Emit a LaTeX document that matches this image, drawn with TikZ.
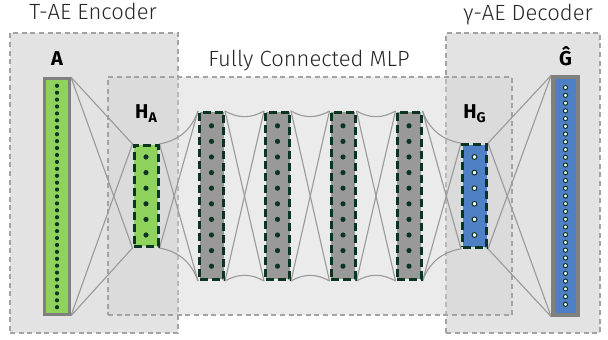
\documentclass[tikz,border=0pt]{standalone}
\usepackage{fontspec}
\setmainfont{Fira Sans Light}[BoldFont={Fira Sans Bold}]
\usetikzlibrary{positioning,fit,backgrounds}

\definecolor{ingreen}{HTML}{8FD35C}
\definecolor{outblue}{HTML}{4F80C6}
\definecolor{hidgray}{HTML}{999999}
\definecolor{edgedark}{HTML}{0A3520}
\definecolor{framegray}{HTML}{A3A3A3}
\definecolor{bargray}{HTML}{808080}
\definecolor{wiregray}{HTML}{999999}
\definecolor{blockfill}{HTML}{E3E3E3}
\definecolor{mlpfill}{HTML}{D2D2D2}

\begin{document}
\begin{tikzpicture}[
  x=0.5pt, y=-0.5pt,
  font=\fontsize{11}{13}\selectfont,
  region/.style={draw=framegray, line width=1.25pt, dash pattern=on 2.5pt off 1.8pt,
                 inner sep=0pt},
  bar/.style={draw=bargray, line width=1.35pt, inner sep=0pt,
              minimum width=12.6pt},
  layer/.style={draw=edgedark, line width=1.5pt, dash pattern=on 4pt off 2pt,
                inner sep=0pt, minimum width=12pt},
  wire/.style={draw=wiregray, line width=0.55pt},
  ttl/.style={anchor=base, text=black!85},
  lbl/.style={anchor=base, font=\fontsize{10}{12}\selectfont\bfseries},
  dkdot/.style={fill=edgedark},
  wtdot/.style={fill=white, draw=edgedark, line width=0.5pt},
]
\useasboundingbox (0,0) rectangle (608,340);

% input / bottleneck / output layers
\node[bar, fill=ingreen, minimum height=118pt] (A) at (57,196.5) {};
\node[layer, fill=ingreen, minimum height=50.5pt] (HA) at (146,196) {};
\foreach \k/\x in {1/211.5,2/277.5,3/343,4/409}
  \node[layer, fill=hidgray, minimum height=83.5pt] (L\k) at (\x,196) {};
\node[layer, fill=outblue, minimum height=51.3pt] (HG) at (474.5,196) {};
\node[bar, fill=outblue, line width=1.7pt, minimum height=119pt] (G) at (565.5,196) {};

% units
\foreach \i in {0,...,32}
  \fill[dkdot] (A.center) ++(0,{(\i-16)*6.92}) circle (1.05pt);
\foreach \i in {0,...,28}
  \filldraw[wtdot] (G.center) ++(0,{(\i-14)*7.74}) circle (1.05pt);
\foreach \i in {0,...,5} {
  \fill[dkdot] (HA.center) ++(0,{(\i-2.5)*15.6}) circle (1.3pt);
  \filldraw[wtdot] (HG.center) ++(0,{(\i-2.5)*15.6}) circle (1.2pt);
}
\foreach \k in {1,...,4}
  \foreach \i in {0,...,9}
    \fill[dkdot] (L\k.center) ++(0,{(\i-4.5)*15.6}) circle (1.3pt);

% layer names
\node[lbl] (lA)  at (57,66)    {A};
\node[lbl] (lHA) at (146,119)  {H\raisebox{-2pt}{\fontsize{7}{8}\selectfont A}};
\node[lbl] (lHG) at (474.5,119){H\raisebox{-2pt}{\fontsize{7}{8}\selectfont G}};
\node[lbl] (lG)  at (565.5,66) {Ĝ};

% block titles
\node[ttl] (tEnc) at (93,20)   {T-AE Encoder};
\node[ttl] (tMLP) at (309,67)  {Fully Connected MLP};
\node[ttl] (tDec) at (528,20.5){γ-AE Decoder};

\begin{scope}[on background layer]
  \node[region, fill=blockfill, fit={(10,33) (178,333)}] (enc) {};
  \node[region, fill=blockfill, fit={(446,33) (600,333)}] (dec) {};
  \node[region, fill=mlpfill, fill opacity=0.455, fit={(108,77) (512,315)}] (mlp) {};
\end{scope}

\begin{scope}[on background layer]
  \foreach \a/\b in {A/HA, HG/G} {
    \draw[wire] (\a.north east) -- (\b.north west);
    \draw[wire] (\a.north east) -- (\b.south west);
    \draw[wire] (\a.south east) -- (\b.north west);
    \draw[wire] (\a.south east) -- (\b.south west);
  }
  \foreach \a/\b in {HA/L1, L1/L2, L2/L3, L3/L4, L4/HG} {
    \draw[wire] (\a.north east) to[bend right=30] (\b.north west);
    \draw[wire] (\a.south east) to[bend left=30] (\b.south west);
    \draw[wire] (\a.north east) -- (\b.south west);
    \draw[wire] (\a.south east) -- (\b.north west);
  }
\end{scope}
\end{tikzpicture}
\end{document}
